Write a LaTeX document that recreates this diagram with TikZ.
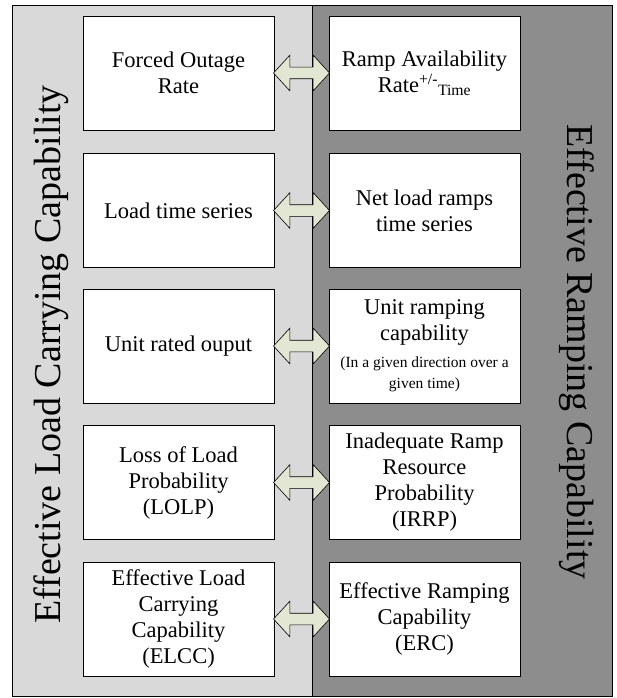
\documentclass[tikz,border=0pt]{standalone}
\usepackage{fontspec}
\setmainfont{Liberation Serif}
\usetikzlibrary{shapes.arrows,calc}
\definecolor{lightpanel}{RGB}{217,217,217}
\definecolor{darkpanel}{RGB}{141,141,141}
\definecolor{arrowfill}{RGB}{226,231,212}
\newcommand{\smalltxt}{\fontsize{15.5}{20}\selectfont}
\tikzset{
  box/.style={shape=rectangle,draw=black,fill=white,line width=0.8pt,minimum width=191pt,minimum height=114pt,align=center,inner sep=2pt,font=\fontsize{22.5}{26}\selectfont},
  dblarrow/.style={shape=double arrow,draw=black,fill=arrowfill,line width=0.6pt,inner xsep=0pt,inner ysep=5.5pt,minimum height=56pt,double arrow head extend=12pt,double arrow tip angle=95},
  sidelabel/.style={font=\fontsize{38}{44}\selectfont,inner sep=0pt}
}
\begin{document}
\begin{tikzpicture}[x=1pt,y=-1pt]
\useasboundingbox (0,0) rectangle (616,698);
% the two panels
\draw[fill=lightpanel,line width=0.8pt] (12,5) rectangle (312,696);
\draw[fill=darkpanel,line width=0.8pt] (312,5) rectangle (612,696);
\node[sidelabel,rotate=90,anchor=base] (ELCCtitle) at (60,354.5) {Effective Load Carrying Capability};
\node[sidelabel,rotate=-90,anchor=base] (ERCtitle) at (567,352) {Effective Ramping Capability};
% load carrying side
\node[box] (L1) at (178.5,73) {Forced Outage\\Rate};
\node[box] (L2) at (178.5,210.5) {Load time series};
\node[box] (L3) at (178.5,346) {Unit rated ouput};
\node[box] (L4) at (178.5,482.5) {Loss of Load\\Probability\\(LOLP)};
\node[box] (L5) at (178.5,619) {Effective Load\\Carrying\\Capability\\(ELCC)};
% ramping side
\node[box] (R1) at (424.5,73) {Ramp Availability\\Rate\textsuperscript{+/-}\textsubscript{Time}};
\node[box] (R2) at (424.5,210.5) {Net load ramps\\time series};
\node[box] (R3) at (424.5,346) {Unit ramping\\capability\\[1pt]\smalltxt (In a given direction over a\\[-5pt]\smalltxt given time)};
\node[box] (R4) at (424.5,482.5) {Inadequate Ramp\\Resource\\Probability\\(IRRP)};
\node[box] (R5) at (424.5,619) {Effective Ramping\\Capability\\(ERC)};
% arrows between the pairs
\foreach \i in {1,...,5}
  \node[dblarrow] (A\i) at ($(L\i.east)!0.5!(R\i.west)$) {};
\end{tikzpicture}
\end{document}
